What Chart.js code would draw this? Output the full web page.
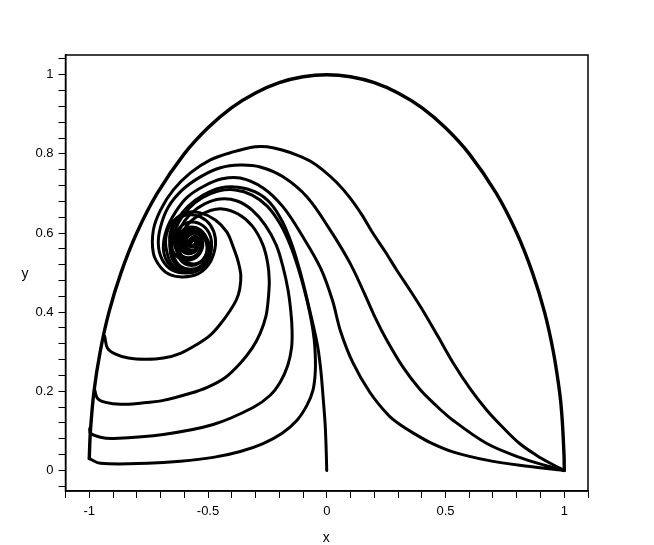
<!DOCTYPE html>
<html><head><meta charset="utf-8">
<script src="https://cdn.jsdelivr.net/npm/chart.js@4.4.1/dist/chart.umd.min.js"></script>
<style>html,body{margin:0;padding:0;background:#fff}#wrap{width:654px;height:545px}</style>
</head><body><div id="wrap"><canvas id="c" width="654" height="545"></canvas></div>
<script>
// Axis tick labels
const xTickLabels = ["-1", "-0.5", "0", "0.5", "1"];
const yTickLabels = ["0", "0.2", "0.4", "0.6", "0.8", "1"];

// Trajectories (x, y)
const outerX = [1.0,0.999,0.99,0.98,0.954,0.917,0.866,0.8,0.714,0.6,0.5,0.4,0.3,0.2,0.1,0,-0.1,-0.2,-0.3,-0.4,-0.5,-0.6,-0.714,-0.8,-0.866,-0.917,-0.954,-0.98,-0.995,-1.0];
const outerY = [0.0,0.04,0.14,0.2,0.3,0.4,0.5,0.6,0.7,0.8,0.866,0.917,0.954,0.98,0.995,1.0,0.995,0.98,0.954,0.917,0.866,0.8,0.7,0.6,0.5,0.4,0.3,0.2,0.1,0.03];

const r1X = [1.0,0.951,0.884,0.812,0.741,0.674,0.602,0.531,0.468,0.409,0.350,0.295,0.245,0.194,0.148,0.098,0.043,-0.016,-0.070,-0.125,-0.188,-0.251,-0.301,-0.394,-0.490,-0.574,-0.646,-0.700,-0.730,-0.730,-0.700,-0.658,-0.604,-0.545,-0.499,-0.474,-0.469,-0.490,-0.532,-0.583,-0.629,-0.658,-0.658,-0.633,-0.591,-0.549,-0.524,-0.528,-0.557,-0.587,-0.587,-0.557,-0.549];
const r1Y = [0.0,0.015,0.038,0.068,0.109,0.152,0.208,0.273,0.339,0.400,0.456,0.506,0.554,0.600,0.646,0.689,0.727,0.759,0.782,0.797,0.810,0.818,0.818,0.805,0.785,0.752,0.709,0.658,0.608,0.549,0.514,0.494,0.489,0.496,0.519,0.552,0.587,0.620,0.641,0.646,0.633,0.603,0.570,0.542,0.532,0.539,0.562,0.587,0.600,0.590,0.570,0.565,0.580];

const r2X = [1.0,0.917,0.812,0.674,0.531,0.455,0.392,0.321,0.253,0.205,0.155,0.098,0.014,-0.083,-0.184,-0.280,-0.364,-0.448,-0.532,-0.608,-0.667,-0.700,-0.709,-0.692,-0.650,-0.595,-0.541,-0.503,-0.486,-0.490,-0.520,-0.566,-0.612,-0.637,-0.637,-0.608,-0.566,-0.537,-0.532,-0.553,-0.578,-0.570,-0.549];
const r2Y = [0.0,0.013,0.033,0.068,0.127,0.167,0.205,0.261,0.329,0.385,0.452,0.524,0.608,0.691,0.742,0.767,0.772,0.765,0.742,0.709,0.666,0.615,0.570,0.532,0.506,0.499,0.506,0.527,0.557,0.592,0.618,0.628,0.618,0.592,0.562,0.542,0.539,0.554,0.577,0.592,0.582,0.567,0.575];

const r3X = [1.0,0.812,0.674,0.531,0.434,0.363,0.308,0.262,0.182,0.111,0.058,0.024,-0.025,-0.100,-0.184,-0.268,-0.364,-0.440,-0.516,-0.587,-0.637,-0.675,-0.688,-0.671,-0.629,-0.574,-0.524,-0.503,-0.503,-0.532,-0.574,-0.612,-0.625,-0.604,-0.566,-0.545,-0.562,-0.574];
const r3Y = [0.0,0.013,0.026,0.047,0.071,0.095,0.116,0.138,0.197,0.271,0.352,0.430,0.510,0.590,0.666,0.714,0.739,0.737,0.719,0.691,0.653,0.608,0.562,0.527,0.506,0.504,0.519,0.547,0.582,0.608,0.615,0.603,0.575,0.552,0.549,0.567,0.582,0.572];

const vX = [0.0,-0.003,-0.007,-0.016,-0.025,-0.037,-0.053,-0.072,-0.092,-0.116,-0.146,-0.186,-0.238,-0.301,-0.373,-0.448,-0.520,-0.583,-0.629,-0.658,-0.658,-0.633,-0.583,-0.532,-0.507,-0.503,-0.528,-0.570,-0.608,-0.616,-0.591,-0.553,-0.541,-0.562,-0.578];
const vY = [0.0,0.063,0.119,0.190,0.253,0.309,0.356,0.405,0.456,0.511,0.570,0.628,0.676,0.704,0.716,0.714,0.696,0.668,0.633,0.590,0.549,0.519,0.506,0.514,0.539,0.572,0.600,0.610,0.597,0.570,0.552,0.554,0.575,0.587,0.575];

const l4X = [-1.0,-0.953,-0.755,-0.616,-0.478,-0.364,-0.268,-0.188,-0.125,-0.083,-0.058,-0.048,-0.050,-0.058,-0.072,-0.094,-0.120,-0.154,-0.196,-0.251,-0.314,-0.385,-0.457,-0.524,-0.583,-0.625,-0.650,-0.646,-0.616,-0.566,-0.520,-0.499,-0.507,-0.537,-0.578,-0.608,-0.604,-0.570,-0.545,-0.557];
const l4Y = [0.03,0.018,0.018,0.023,0.033,0.048,0.068,0.094,0.127,0.165,0.203,0.253,0.311,0.354,0.400,0.456,0.511,0.570,0.623,0.668,0.696,0.709,0.706,0.689,0.661,0.625,0.582,0.544,0.516,0.509,0.522,0.552,0.582,0.603,0.605,0.587,0.562,0.552,0.567,0.582];

const l3X = [-0.998,-0.995,-0.953,-0.898,-0.688,-0.478,-0.310,-0.238,-0.196,-0.164,-0.148,-0.146,-0.151,-0.163,-0.184,-0.213,-0.259,-0.314,-0.377,-0.448,-0.516,-0.574,-0.616,-0.633,-0.621,-0.583,-0.537,-0.507,-0.507,-0.532,-0.574,-0.599,-0.591,-0.557,-0.545];
const l3Y = [0.106,0.094,0.084,0.081,0.091,0.116,0.159,0.190,0.223,0.266,0.311,0.354,0.400,0.456,0.514,0.570,0.620,0.658,0.681,0.686,0.673,0.648,0.613,0.572,0.537,0.519,0.524,0.547,0.577,0.597,0.600,0.582,0.559,0.554,0.572];

const l2X = [-0.977,-0.965,-0.931,-0.869,-0.785,-0.688,-0.574,-0.503,-0.427,-0.364,-0.314,-0.280,-0.256,-0.246,-0.242,-0.249,-0.270,-0.314,-0.373,-0.440,-0.507,-0.566,-0.608,-0.621,-0.599,-0.557,-0.520,-0.503,-0.520,-0.557,-0.591,-0.587,-0.553,-0.541];
const l2Y = [0.203,0.182,0.172,0.167,0.170,0.177,0.195,0.210,0.235,0.271,0.309,0.347,0.390,0.435,0.480,0.525,0.572,0.618,0.648,0.661,0.653,0.633,0.600,0.562,0.532,0.522,0.534,0.562,0.590,0.600,0.585,0.562,0.557,0.575];

const l1X = [-0.935,-0.923,-0.889,-0.835,-0.764,-0.688,-0.616,-0.545,-0.490,-0.448,-0.408,-0.380,-0.366,-0.362,-0.373,-0.394,-0.421,-0.469,-0.532,-0.595,-0.646,-0.675,-0.675,-0.650,-0.595,-0.541,-0.503,-0.490,-0.507,-0.545,-0.587,-0.608,-0.591,-0.557,-0.541,-0.557];
const l1Y = [0.339,0.309,0.294,0.284,0.281,0.284,0.296,0.319,0.342,0.370,0.403,0.432,0.460,0.494,0.528,0.565,0.603,0.633,0.651,0.651,0.630,0.597,0.557,0.519,0.501,0.506,0.529,0.559,0.587,0.603,0.597,0.575,0.554,0.554,0.572,0.585];

const curves = [
  [outerX, outerY, 3.4],
  [r1X, r1Y, 3], [r2X, r2Y, 3], [r3X, r3Y, 3],
  [vX, vY, 3], [l4X, l4Y, 3], [l3X, l3Y, 3], [l2X, l2Y, 3], [l1X, l1Y, 3]
];

const datasets = curves.map(([xs, ys, w]) => ({
  data: xs.map((x, i) => ({x: x, y: ys[i]})),
  showLine: true, pointRadius: 0, borderColor: '#000', borderWidth: w,
  tension: 0.35, fill: false, borderCapStyle: 'round', borderJoinStyle: 'round'
}));

const FONT = {family: '"Liberation Sans", Arial, sans-serif', size: 13};

const framePlugin = {
  id: 'frame',
  afterDraw(chart) {
    const {ctx, chartArea: a} = chart;
    ctx.save();
    ctx.strokeStyle = '#000';
    ctx.lineWidth = 1.5;
    ctx.strokeRect(a.left, a.top, a.right - a.left, a.bottom - a.top);
    ctx.fillStyle = '#000';
    ctx.font = '14px "Liberation Sans", Arial, sans-serif';
    ctx.textAlign = 'center';
    ctx.textBaseline = 'middle';
    ctx.fillText('x', (a.left + a.right) / 2 - 0.5, 538);
    ctx.fillText('y', 25, 274);
    ctx.restore();
  }
};

function near(v, t) { return Math.abs(v - t) < 1e-6; }

new Chart(document.getElementById('c'), {
  type: 'scatter',
  data: {datasets},
  plugins: [framePlugin],
  options: {
    responsive: false, animation: false,
    layout: {padding: {top: 55, right: 66, left: 0, bottom: 0}},
    plugins: {legend: {display: false}, tooltip: {enabled: false}},
    scales: {
      x: {
        type: 'linear', min: -1.1, max: 1.1,
        afterBuildTicks(s) {
          const t = [];
          for (let i = -11; i <= 11; i++) t.push({value: i / 10});
          s.ticks = t;
        },
        afterFit(s) { s.height = 54; },
        ticks: {
          autoSkip: false, maxRotation: 0, padding: 6, color: '#000', font: FONT,
          callback(v) {
            const idx = [-1, -0.5, 0, 0.5, 1].findIndex(t => near(v, t));
            return idx >= 0 ? xTickLabels[idx] : '';
          }
        },
        grid: {drawOnChartArea: false, drawTicks: true, tickLength: 7, color: '#000', lineWidth: 1},
        border: {display: true, color: '#000', width: 1.5}
      },
      y: {
        type: 'linear', min: -0.052, max: 1.05,
        afterBuildTicks(s) {
          const t = [];
          for (let i = -1; i <= 26; i++) t.push({value: i * 0.04});
          s.ticks = t;
        },
        afterFit(s) { s.width = 65.5; },
        ticks: {
          autoSkip: false, padding: 5, color: '#000', font: FONT,
          callback(v) {
            const idx = [0, 0.2, 0.4, 0.6, 0.8, 1].findIndex(t => near(v, t));
            return idx >= 0 ? yTickLabels[idx] : '';
          }
        },
        grid: {drawOnChartArea: false, drawTicks: true, tickLength: 7, color: '#000', lineWidth: 1},
        border: {display: true, color: '#000', width: 1.5}
      }
    }
  }
});
</script></body></html>
